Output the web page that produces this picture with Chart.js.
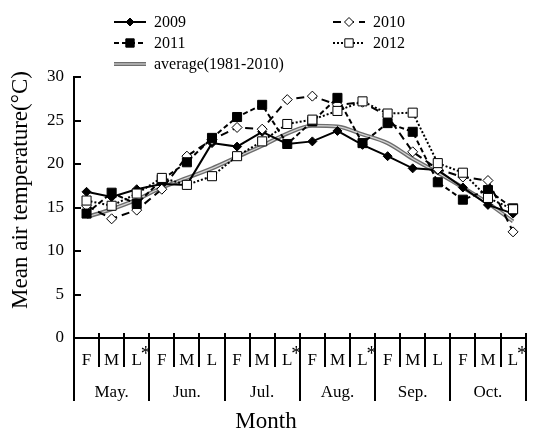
<!DOCTYPE html>
<html>
<head>
<meta charset="utf-8">
<script src="https://cdn.jsdelivr.net/npm/chart.js@4.4.1/dist/chart.umd.min.js"></script>
<style>
  html, body { margin: 0; padding: 0; background: #fff; }
  #wrap { width: 533px; height: 433px; }
</style>
</head>
<body>
<div id="wrap"><canvas id="chartSuhu"></canvas></div>
<script>
// --- data ---
const months = ['May.', 'Jun.', 'Jul.', 'Aug.', 'Sep.', 'Oct.'];
const tenDays = ['F', 'M', 'L'];
const starred = [2, 8, 11, 17];          // "L*" categories
const yTicks = [0, 5, 10, 15, 20, 25, 30];

const t2009 = [16.8, 16.2, 17.1, 17.7, 17.6, 22.4, 22.0, 23.7, 22.3, 22.6, 23.8, 22.2, 20.9, 19.5, 19.3, 17.3, 15.3, 14.3];
const t2010 = [15.2, 13.7, 14.7, 17.1, 20.9, 22.8, 24.2, 24.0, 27.4, 27.8, 26.8, 27.1, 25.5, 21.4, 19.4, 18.5, 18.1, 12.2];
const t2011 = [14.3, 16.7, 15.4, 18.2, 20.2, 23.0, 25.4, 26.8, 22.3, 24.9, 27.6, 22.4, 24.7, 23.7, 17.9, 15.9, 17.0, 14.9];
const t2012 = [15.8, 15.2, 16.6, 18.4, 17.6, 18.6, 20.9, 22.6, 24.6, 25.1, 26.1, 27.2, 25.8, 25.9, 20.1, 19.0, 16.1, 14.8];
const tAvg  = [13.9, 14.8, 15.9, 17.3, 18.4, 19.5, 20.8, 22.1, 23.5, 24.4, 24.3, 23.4, 22.4, 20.6, 19.0, 17.3, 15.5, 13.4];

const dayLabels = months.flatMap(() => tenDays);
const serif = '"Liberation Serif", "Times New Roman", serif';

// --- legend, y title, inward ticks and asterisks ---
const decor = {
    id: 'decor',
    afterDraw(chart) {
        const { ctx, chartArea: area, scales } = chart;
        const x = scales.x, y = scales.y;
        ctx.save();
        ctx.strokeStyle = '#000';
        ctx.fillStyle = '#000';
        ctx.lineWidth = 2;

        // y ticks point into the plot
        yTicks.forEach(v => {
            if (v === 0) return;
            const py = Math.round(y.getPixelForValue(v));
            ctx.beginPath();
            ctx.moveTo(area.left, py);
            ctx.lineTo(area.left + 7, py);
            ctx.stroke();
        });
        // little stubs above the x axis
        for (let i = 0; i <= dayLabels.length; i++) {
            const px = Math.round(x.getPixelForValue(i - 0.5));
            ctx.beginPath();
            ctx.moveTo(px, area.bottom - 5);
            ctx.lineTo(px, area.bottom);
            ctx.stroke();
        }
        // asterisks
        ctx.font = '20px ' + serif;
        ctx.textAlign = 'left';
        ctx.textBaseline = 'alphabetic';
        starred.forEach(i => ctx.fillText('*', x.getPixelForValue(i) + 4, 360));

        // y axis title
        ctx.save();
        ctx.translate(21, 190);
        ctx.rotate(-Math.PI / 2);
        ctx.font = '23px ' + serif;
        ctx.textAlign = 'center';
        ctx.textBaseline = 'middle';
        ctx.fillText('Mean air temperature(\u00B0C)', 0, 0);
        ctx.restore();

        // legend (two columns)
        const slots = [[114, 22], [333, 22], [114, 43], [333, 43], [114, 64]];
        const dsets = chart.data.datasets;
        ctx.font = '16px ' + serif;
        ctx.textBaseline = 'middle';
        slots.forEach(([lx, ly], k) => {
            const ds = dsets[k];
            ctx.setLineDash(ds.borderDash || []);
            ctx.strokeStyle = ds.borderColor;
            ctx.lineWidth = ds.borderWidth;
            ctx.beginPath();
            ctx.moveTo(lx, ly);
            ctx.lineTo(lx + 32, ly);
            ctx.stroke();
            if (k === 4) {
                const inner = dsets[5];
                ctx.strokeStyle = inner.borderColor;
                ctx.lineWidth = inner.borderWidth;
                ctx.beginPath();
                ctx.moveTo(lx, ly);
                ctx.lineTo(lx + 32, ly);
                ctx.stroke();
            }
            ctx.setLineDash([]);
            if (ds.pointRadius > 0) {
                ctx.fillStyle = ds.pointBackgroundColor;
                ctx.strokeStyle = ds.pointBorderColor;
                ctx.lineWidth = ds.pointBorderWidth;
                Chart.helpers.drawPoint(ctx, {
                    pointStyle: ds.pointStyle, radius: ds.pointRadius - 0.5,
                    rotation: 0, borderWidth: ds.pointBorderWidth
                }, lx + 16, ly);
            }
            ctx.fillStyle = '#000';
            ctx.fillText(ds.label, lx + 40, ly + 1);
        });
        ctx.restore();
    }
};

new Chart(document.getElementById('chartSuhu'), {
    type: 'line',
    data: {
        labels: dayLabels,
        datasets: [
            {
                label: '2009', data: t2009,
                borderColor: '#000', borderWidth: 2,
                pointStyle: 'rectRot', pointRadius: 4.5,
                pointBackgroundColor: '#000', pointBorderColor: '#000', pointBorderWidth: 1,
                order: 4
            },
            {
                label: '2010', data: t2010,
                borderColor: '#000', borderWidth: 2, borderDash: [8, 5],
                pointStyle: 'rectRot', pointRadius: 5,
                pointBackgroundColor: '#fff', pointBorderColor: '#000', pointBorderWidth: 1,
                order: 3
            },
            {
                label: '2011', data: t2011,
                borderColor: '#000', borderWidth: 2, borderDash: [5, 3],
                pointStyle: 'rect', pointRadius: 6.4,
                pointBackgroundColor: '#000', pointBorderColor: '#000', pointBorderWidth: 1,
                order: 2
            },
            {
                label: '2012', data: t2012,
                borderColor: '#000', borderWidth: 2, borderDash: [2, 2],
                pointStyle: 'rect', pointRadius: 6.4,
                pointBackgroundColor: '#fff', pointBorderColor: '#000', pointBorderWidth: 1,
                order: 1
            },
            {
                label: 'average(1981-2010)', data: tAvg,
                borderColor: '#6e6e6e', borderWidth: 4, pointRadius: 0,
                cubicInterpolationMode: 'monotone',
                order: 6
            },
            {
                label: '', data: tAvg,
                borderColor: '#d4d4d4', borderWidth: 1.2, pointRadius: 0,
                cubicInterpolationMode: 'monotone',
                order: 5
            }
        ]
    },
    options: {
        responsive: true,
        maintainAspectRatio: false,
        animation: false,
        events: [],
        layout: { padding: { top: 77, right: 1, bottom: 0, left: 0 } },
        plugins: {
            legend: { display: false },
            tooltip: { enabled: false },
            title: {
                display: true, position: 'bottom', text: 'Month', color: '#000',
                font: { family: serif, size: 23, weight: 'normal', lineHeight: 1 },
                padding: { top: 8, bottom: 0 }
            }
        },
        scales: {
            y: {
                min: 0, max: 30,
                ticks: { stepSize: 5, color: '#000', font: { family: serif, size: 17 }, padding: 10 },
                grid: { drawOnChartArea: false, drawTicks: false },
                border: { color: '#000', width: 2 },
                afterFit: s => { s.width = 74; }
            },
            x: {
                type: 'category', labels: dayLabels, offset: true,
                grid: { offset: true, drawOnChartArea: false, tickLength: 29, color: '#000', lineWidth: 2 },
                border: { color: '#000', width: 2 },
                ticks: { color: '#000', font: { family: serif, size: 17 }, padding: -17, maxRotation: 0, autoSkip: false },
                afterFit: s => { s.height = 29; }
            },
            xm: {
                type: 'category', labels: months, offset: true, position: 'bottom',
                grid: { offset: true, drawOnChartArea: false, tickLength: 34, color: '#000', lineWidth: 2 },
                border: { display: false },
                ticks: { color: '#000', font: { family: serif, size: 17 }, padding: -19, maxRotation: 0, autoSkip: false },
                afterFit: s => { s.height = 35; }
            }
        }
    },
    plugins: [decor]
});
</script>
</body>
</html>
